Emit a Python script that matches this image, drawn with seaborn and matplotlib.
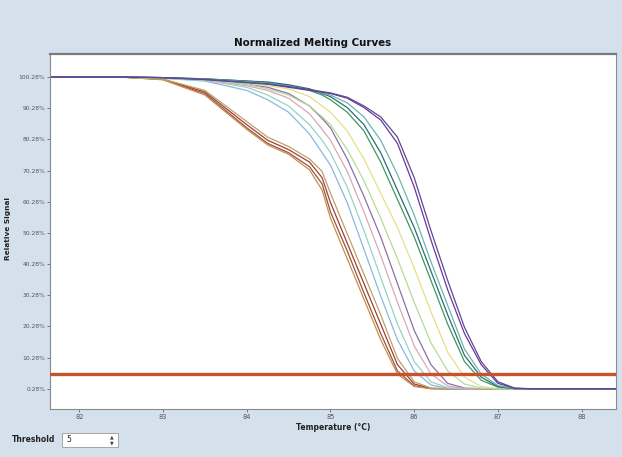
import numpy as np
import pandas as pd
import matplotlib
matplotlib.use("Agg")
import matplotlib.pyplot as plt
import seaborn as sns
from matplotlib.patches import Rectangle

# ---- data ----
temps = [81.65, 82.5, 83.0, 83.5, 84.0, 84.25, 84.5, 84.75, 84.9, 85.0, 85.2, 85.4,
         85.6, 85.8, 86.0, 86.2, 86.4, 86.6, 86.8, 87.0, 87.2, 87.4, 88.4]

curve_a1 = [100.28, 100.28, 99.5, 95.0, 84.0, 79.0, 76.0, 71.5, 66.0, 57.0, 44.5, 31.0,
            18.0, 6.0, 1.2, 0.3, 0.28, 0.28, 0.28, 0.28, 0.28, 0.28, 0.28]
curve_a2 = [100.28, 100.28, 99.6, 95.5, 85.0, 80.0, 77.0, 73.0, 68.0, 60.0, 47.0, 34.0,
            21.0, 8.0, 1.8, 0.4, 0.28, 0.28, 0.28, 0.28, 0.28, 0.28, 0.28]
curve_a3 = [100.28, 100.28, 99.4, 94.5, 83.5, 78.5, 75.5, 70.5, 64.0, 55.0, 42.0, 29.0,
            16.0, 5.0, 1.0, 0.3, 0.28, 0.28, 0.28, 0.28, 0.28, 0.28, 0.28]
curve_a4 = [100.28, 100.28, 99.6, 96.0, 86.0, 81.0, 78.0, 74.0, 70.0, 63.0, 50.0, 37.0,
            24.0, 10.0, 2.5, 0.5, 0.28, 0.28, 0.28, 0.28, 0.28, 0.28, 0.28]
curve_b1 = [100.28, 100.28, 99.9, 99.0, 96.0, 93.0, 89.0, 82.0, 76.0, 72.0, 60.0, 45.0,
            30.0, 16.0, 6.0, 1.5, 0.4, 0.28, 0.28, 0.28, 0.28, 0.28, 0.28]
curve_b2 = [100.28, 100.28, 99.9, 99.2, 97.0, 94.5, 91.0, 85.0, 80.0, 76.0, 65.0, 51.0,
            36.0, 21.0, 9.0, 2.5, 0.6, 0.28, 0.28, 0.28, 0.28, 0.28, 0.28]
curve_c1 = [100.28, 100.28, 100.0, 99.5, 98.0, 97.0, 95.0, 91.0, 87.0, 84.0, 74.0, 62.0,
            49.0, 34.0, 19.0, 8.0, 2.0, 0.5, 0.28, 0.28, 0.28, 0.28, 0.28]
curve_c2 = [100.28, 100.28, 100.0, 99.4, 97.5, 96.0, 93.5, 88.5, 83.5, 80.0, 70.0, 57.0,
            43.0, 28.0, 14.0, 5.0, 1.2, 0.3, 0.28, 0.28, 0.28, 0.28, 0.28]
curve_d1 = [100.28, 100.28, 100.0, 99.6, 98.5, 97.5, 96.5, 94.0, 91.0, 89.0, 83.0, 74.0,
            63.0, 52.0, 39.0, 25.0, 12.0, 4.0, 1.0, 0.3, 0.28, 0.28, 0.28]
curve_d2 = [100.28, 100.28, 100.0, 99.5, 98.0, 96.5, 94.5, 91.0, 87.5, 85.0, 77.0, 67.0,
            55.0, 42.0, 28.0, 15.0, 6.0, 1.8, 0.5, 0.28, 0.28, 0.28, 0.28]
curve_e1 = [100.28, 100.28, 100.1, 99.7, 99.0, 98.5, 97.5, 96.0, 94.5, 93.0, 89.0, 83.0,
            73.0, 61.0, 49.0, 35.0, 21.0, 9.0, 3.0, 0.8, 0.3, 0.28, 0.28]
curve_e2 = [100.28, 100.28, 100.1, 99.7, 99.0, 98.7, 97.8, 96.5, 95.0, 94.0, 90.5, 85.0,
            76.0, 64.0, 52.0, 38.0, 24.0, 11.0, 4.0, 1.0, 0.3, 0.28, 0.28]
curve_f1 = [100.28, 100.28, 100.1, 99.6, 98.8, 98.3, 97.3, 96.2, 95.2, 94.5, 92.0, 87.5,
            80.0, 69.0, 56.0, 41.0, 27.0, 13.0, 5.0, 1.3, 0.3, 0.28, 0.28]
curve_g1 = [100.28, 100.28, 100.1, 99.5, 98.5, 98.0, 97.0, 96.0, 95.4, 95.0, 93.5, 90.5,
            86.5, 79.0, 65.0, 48.0, 32.0, 18.0, 8.0, 2.0, 0.4, 0.28, 0.28]
curve_g2 = [100.28, 100.28, 100.1, 99.5, 98.6, 98.1, 97.2, 96.3, 95.6, 95.2, 93.8, 91.0,
            87.5, 81.0, 68.0, 51.0, 35.0, 20.0, 9.0, 2.5, 0.5, 0.28, 0.28]

curves = {
    "A1": curve_a1, "A2": curve_a2, "A3": curve_a3, "A4": curve_a4,
    "B1": curve_b1, "B2": curve_b2, "C1": curve_c1, "C2": curve_c2,
    "D1": curve_d1, "D2": curve_d2, "E1": curve_e1, "E2": curve_e2,
    "F1": curve_f1, "G1": curve_g1, "G2": curve_g2,
}
colors = {
    "A1": "#8a5a3c", "A2": "#a83a3a", "A3": "#d08a48", "A4": "#b8a468",
    "B1": "#8ab8dc", "B2": "#94d4c8", "C1": "#8a70a8", "C2": "#d8a8b8",
    "D1": "#e4e088", "D2": "#b4dc98", "E1": "#3c9a5c", "E2": "#2e6a78",
    "F1": "#68b8b0", "G1": "#7034a0", "G2": "#5a4a90",
}

threshold = 5
x_ticks = [82, 83, 84, 85, 86, 87, 88]
y_ticks = [0.28, 10.28, 20.28, 30.28, 40.28, 50.28, 60.28, 70.28, 80.28, 90.28, 100.28]

rows = []
for name, vals in curves.items():
    for t, v in zip(temps, vals):
        rows.append({"curve": name, "temp": t, "signal": v})
df = pd.DataFrame(rows)

# ---- figure ----
bg = "#d4e0ec"
fig = plt.figure(figsize=(6.22, 4.57), dpi=100, facecolor=bg)
ax = fig.add_axes([50 / 622, 1 - 409 / 457, 566 / 622, 355 / 457])
ax.set_facecolor("white")

sns.lineplot(data=df, x="temp", y="signal", hue="curve", palette=colors,
             linewidth=0.9, legend=False, ax=ax, sort=False)

ax.axhline(threshold, color="#c8522c", linewidth=2.4, zorder=5)

ax.set_xlim(81.65, 88.41)
ax.set_ylim(0.28 - 6.5, 100.28 + 7.4)
ax.set_xticks(x_ticks)
ax.set_xticklabels([str(t) for t in x_ticks], fontsize=4.8, color="#555555")
ax.set_yticks(y_ticks)
ax.set_yticklabels([f"{v:.2f}%" for v in y_ticks], fontsize=4.3, color="#555555")
ax.tick_params(axis="both", length=2, width=0.6, color="#666666", pad=1.5)

for side in ["left", "bottom", "right"]:
    ax.spines[side].set_color("#8a8a8a")
    ax.spines[side].set_linewidth(0.8)
ax.spines["top"].set_color("#7a7a7a")
ax.spines["top"].set_linewidth(1.6)

fig.text(313 / 622, 1 - 43 / 457, "Normalized Melting Curves", fontsize=7.4,
         fontweight="bold", color="#111111", ha="center", va="center")
ax.set_xlabel("Temperature (°C)", fontsize=5.5, fontweight="bold",
              color="#222222", labelpad=2)
ax.set_ylabel("Relative Signal", fontsize=5.3, fontweight="bold",
              color="#222222")
ax.yaxis.set_label_coords(11 / 622, 1 - 228 / 457, transform=fig.transFigure)

# threshold control
fig.text(12 / 622, 1 - 440 / 457, "Threshold", fontsize=5.5, fontweight="bold",
         color="#222222", va="center", ha="left")
fig.patches.append(Rectangle((62 / 622, 1 - 447 / 457), 56 / 622, 14 / 457,
                             transform=fig.transFigure, facecolor="white",
                             edgecolor="#9a9a9a", linewidth=0.6))
fig.text(66 / 622, 1 - 440 / 457, "5", fontsize=5.5, color="#222222",
         va="center", ha="left")
fig.text(112 / 622, 1 - 437 / 457, "▲", fontsize=3.5, color="#444444",
         va="center", ha="center")
fig.text(112 / 622, 1 - 443 / 457, "▼", fontsize=3.5, color="#444444",
         va="center", ha="center")

fig.savefig("out.png", dpi=100, facecolor=bg)
